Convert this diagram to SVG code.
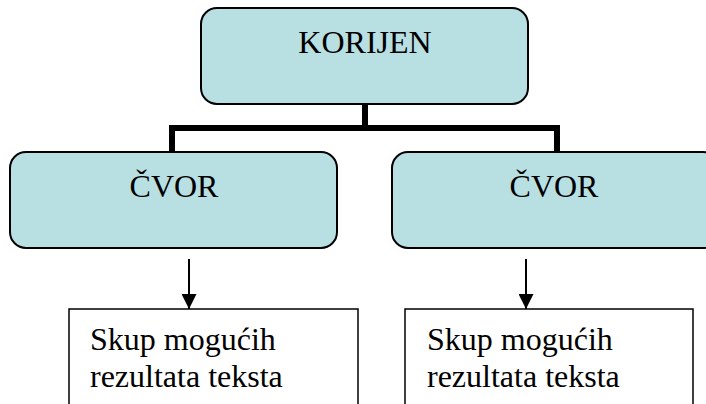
<svg xmlns="http://www.w3.org/2000/svg" width="706" height="404" viewBox="0 0 706 404">
  <style>
    .node { fill: #B8DFE2; stroke: #000; stroke-width: 2; }
    .leaf { fill: #fff; stroke: #000; stroke-width: 1.5; }
    .bar { fill: none; stroke: #000; stroke-width: 6; }
    .arrow { stroke: #000; stroke-width: 2; }
  </style>
  <defs>
    <marker id="head" markerWidth="15" markerHeight="15" refX="15" refY="7.5" orient="auto" markerUnits="userSpaceOnUse">
      <path d="M0,0 L15,7.5 L0,15 Z" fill="#000"/>
    </marker>
  </defs>

  <!-- tree connectors -->
  <g id="connectors">
    <path class="bar" d="M365,104 V128 M172,128 H557 M172,125 V152 M557,125 V152"/>
    <line class="arrow" x1="189" y1="259" x2="189" y2="309" marker-end="url(#head)"/>
    <line class="arrow" x1="526" y1="259" x2="526" y2="309" marker-end="url(#head)"/>
  </g>

  <g id="root">
    <rect class="node" x="201" y="8" width="327" height="96" rx="16"/>
    <text x="365" y="53" text-anchor="middle" style="font-family: 'Liberation Serif', 'DejaVu Serif', serif; font-size: 32px; fill: #000">KORIJEN</text>
  </g>

  <g id="node-left">
    <rect class="node" x="10" y="152" width="327" height="96" rx="16"/>
    <text x="174" y="197" text-anchor="middle" style="font-family: 'Liberation Serif', 'DejaVu Serif', serif; font-size: 32px; fill: #000">ČVOR</text>
  </g>

  <g id="node-right">
    <rect class="node" x="392" y="152" width="327" height="96" rx="16"/>
    <text x="554" y="197" text-anchor="middle" style="font-family: 'Liberation Serif', 'DejaVu Serif', serif; font-size: 32px; fill: #000">ČVOR</text>
  </g>

  <g id="leaf-left">
    <rect class="leaf" x="69" y="309" width="289" height="110"/>
    <text x="90" y="350" style="font-family: 'Liberation Serif', 'DejaVu Serif', serif; font-size: 32px; fill: #000">Skup mogućih</text>
    <text x="90" y="387" style="font-family: 'Liberation Serif', 'DejaVu Serif', serif; font-size: 32px; fill: #000">rezultata teksta</text>
  </g>

  <g id="leaf-right">
    <rect class="leaf" x="405" y="309" width="288" height="110"/>
    <text x="427" y="350" style="font-family: 'Liberation Serif', 'DejaVu Serif', serif; font-size: 32px; fill: #000">Skup mogućih</text>
    <text x="427" y="387" style="font-family: 'Liberation Serif', 'DejaVu Serif', serif; font-size: 32px; fill: #000">rezultata teksta</text>
  </g>
</svg>
